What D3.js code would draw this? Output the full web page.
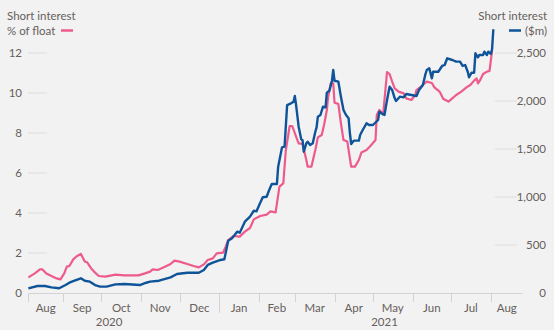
<!DOCTYPE html>
<html><head><meta charset="utf-8">
<script src="https://cdn.jsdelivr.net/npm/d3@7"></script>
<style>
html,body{margin:0;padding:0;background:#f2f2f2;}
svg{display:block;font-family:Lato,"Noto Sans",sans-serif;}
</style></head>
<body><svg id="c" width="554" height="330"></svg>
<script>
// % of float (left axis)
const pinkDates = ["2020-08-05","2020-08-10","2020-08-14","2020-08-16","2020-08-19","2020-08-23","2020-08-27","2020-08-30","2020-09-02","2020-09-04","2020-09-06","2020-09-09","2020-09-12","2020-09-15","2020-09-18","2020-09-20","2020-09-23","2020-09-26","2020-09-29","2020-10-04","2020-10-12","2020-10-19","2020-10-30","2020-11-04","2020-11-08","2020-11-10","2020-11-14","2020-11-20","2020-11-24","2020-11-27","2020-12-01","2020-12-07","2020-12-12","2020-12-16","2020-12-20","2020-12-23","2020-12-27","2020-12-30","2021-01-04","2021-01-06","2021-01-08","2021-01-12","2021-01-17","2021-01-21","2021-01-25","2021-01-28","2021-02-02","2021-02-07","2021-02-10","2021-02-14","2021-02-17","2021-02-20","2021-02-22","2021-02-25","2021-02-27","2021-03-02","2021-03-04","2021-03-07","2021-03-10","2021-03-11","2021-03-14","2021-03-17","2021-03-19","2021-03-22","2021-03-24","2021-03-26","2021-03-27","2021-03-29","2021-03-31","2021-04-01","2021-04-04","2021-04-06","2021-04-08","2021-04-11","2021-04-14","2021-04-17","2021-04-20","2021-04-22","2021-04-26","2021-04-29","2021-05-03","2021-05-04","2021-05-06","2021-05-09","2021-05-10","2021-05-12","2021-05-14","2021-05-16","2021-05-18","2021-05-21","2021-05-25","2021-05-27","2021-05-31","2021-06-03","2021-06-04","2021-06-08","2021-06-12","2021-06-16","2021-06-18","2021-06-22","2021-06-25","2021-06-29","2021-07-01","2021-07-05","2021-07-09","2021-07-13","2021-07-16","2021-07-19","2021-07-21","2021-07-22","2021-07-24","2021-07-26","2021-07-29","2021-07-31","2021-08-02"];
const pinkValues = [0.78,0.98,1.18,1.18,0.98,0.85,0.73,0.68,0.98,1.32,1.35,1.68,1.85,1.95,1.57,1.52,1.23,1.02,0.85,0.82,0.92,0.88,0.88,0.98,1.07,1.18,1.15,1.32,1.45,1.62,1.57,1.45,1.35,1.28,1.43,1.65,1.73,1.98,2.02,2.32,2.65,2.85,2.82,3.07,3.25,3.68,3.85,3.92,4.08,4.03,5.32,5.48,7.15,8.35,8.35,7.82,7.48,7.45,6.65,6.32,6.32,7.15,7.78,7.9,8.45,9.15,9.78,10.48,10.48,9.52,9.45,8.48,7.65,7.57,6.32,6.32,6.65,7.02,7.15,7.35,7.65,8.9,9.15,8.95,9.65,11.05,10.95,10.57,10.23,10.07,9.98,9.73,9.65,9.9,10.15,10.35,10.57,10.5,10.28,10.07,9.7,9.57,9.68,9.9,10.07,10.28,10.4,10.62,10.73,10.48,10.68,10.95,11.07,11.1,12.1];

// Short interest $m (right axis)
const blueDates = ["2020-08-05","2020-08-12","2020-08-18","2020-08-23","2020-08-29","2020-09-03","2020-09-06","2020-09-10","2020-09-15","2020-09-18","2020-09-22","2020-09-26","2020-09-30","2020-10-05","2020-10-12","2020-10-19","2020-10-31","2020-11-05","2020-11-08","2020-11-15","2020-11-24","2020-11-29","2020-12-07","2020-12-16","2020-12-20","2020-12-23","2020-12-27","2021-01-02","2021-01-05","2021-01-08","2021-01-11","2021-01-15","2021-01-17","2021-01-21","2021-01-25","2021-01-28","2021-01-30","2021-02-02","2021-02-04","2021-02-07","2021-02-09","2021-02-11","2021-02-15","2021-02-16","2021-02-19","2021-02-21","2021-02-23","2021-02-26","2021-02-28","2021-03-01","2021-03-02","2021-03-04","2021-03-06","2021-03-07","2021-03-08","2021-03-10","2021-03-11","2021-03-13","2021-03-15","2021-03-17","2021-03-18","2021-03-19","2021-03-21","2021-03-23","2021-03-25","2021-03-26","2021-03-28","2021-03-30","2021-03-31","2021-04-01","2021-04-04","2021-04-06","2021-04-08","2021-04-10","2021-04-12","2021-04-13","2021-04-14","2021-04-16","2021-04-20","2021-04-21","2021-04-23","2021-04-26","2021-04-28","2021-05-01","2021-05-05","2021-05-06","2021-05-09","2021-05-10","2021-05-12","2021-05-14","2021-05-16","2021-05-18","2021-05-19","2021-05-22","2021-05-25","2021-05-27","2021-05-31","2021-06-04","2021-06-06","2021-06-09","2021-06-11","2021-06-12","2021-06-14","2021-06-16","2021-06-17","2021-06-21","2021-06-24","2021-06-26","2021-06-28","2021-07-02","2021-07-05","2021-07-08","2021-07-10","2021-07-12","2021-07-14","2021-07-15","2021-07-17","2021-07-19","2021-07-20","2021-07-22","2021-07-23","2021-07-26","2021-07-27","2021-07-29","2021-07-30","2021-08-01","2021-08-02","2021-08-03"];
const blueValues = [49,73,73,59,49,83,107,128,153,128,118,83,66,66,90,94,83,107,118,128,163,198,211,211,240,292,316,344,351,545,570,639,628,743,795,857,850,941,997,1003,1073,1135,1135,1316,1517,1524,1958,1976,1993,2052,1958,1732,1601,1594,1472,1559,1576,1542,1559,1680,1726,1837,1854,1941,1934,2087,2107,2211,2323,2211,2201,2045,1906,1854,1820,1664,1552,1587,1587,1646,1698,1767,1750,1750,1802,1889,1860,1854,2010,2149,2115,2028,2000,2045,2038,2073,2063,2052,2115,2167,2281,2323,2340,2236,2305,2305,2365,2375,2445,2427,2410,2410,2365,2375,2305,2247,2295,2295,2497,2455,2479,2479,2514,2479,2514,2490,2538,2747];

const leftTicks = [0,2,4,6,8,10,12];
const rightTicks = [500,1000,1500,2000,2500];
const monthLabels = ["Aug","Sep","Oct","Nov","Dec","Jan","Feb","Mar","Apr","May","Jun","Jul","Aug"];
const yearLabels = [{label:"2020", date:"2020-10-07"},{label:"2021", date:"2021-05-10"}];

const parse = d3.timeParse("%Y-%m-%d");
const pink = pinkDates.map((d,i)=>({date:parse(d), v:pinkValues[i]}));
const blue = blueDates.map((d,i)=>({date:parse(d), v:blueValues[i]}));

const textCol = "#66605c", gridCol = "#dcdcdc", tickCol = "#d3d3d3";
const pinkCol = "#ee5a8b", blueCol = "#0f5499";

const svg = d3.select("#c");
svg.append("rect").attr("width",554).attr("height",330).attr("fill","#f2f2f2");

const start = parse("2020-08-05"), end = parse("2021-08-26");
const x = d3.scaleTime().domain([start,end]).range([28.4,522.8]);
const yL = d3.scaleLinear().domain([0,12]).range([293,53]);
const yR = d3.scaleLinear().domain([0,2500]).range([293,53]);

// left stubs + labels
const gl = svg.append("g");
leftTicks.forEach(t=>{
  if(t>0) gl.append("line").attr("x1",28).attr("x2",47).attr("y1",yL(t)).attr("y2",yL(t)).attr("stroke",gridCol).attr("stroke-width",1);
  gl.append("text").attr("x",22).attr("y",yL(t)).attr("dy","0.36em").attr("text-anchor","end")
    .attr("font-size",11.5).attr("fill",textCol).text(t);
});
// right stubs + labels
const gr = svg.append("g");
rightTicks.forEach(t=>{
  gr.append("line").attr("x1",495).attr("x2",517).attr("y1",yR(t)).attr("y2",yR(t)).attr("stroke",gridCol).attr("stroke-width",1);
});
[0].concat(rightTicks).forEach(t=>{
  gr.append("text").attr("x",546).attr("y",yR(t)).attr("dy","0.36em").attr("text-anchor","end")
    .attr("font-size",11.5).attr("fill",textCol).text(d3.format(",")(t));
});

// baseline
svg.append("line").attr("x1",x.range()[0]).attr("x2",x.range()[1]).attr("y1",293.5).attr("y2",293.5).attr("stroke",tickCol);

// month ticks
const months = d3.timeMonth.range(d3.timeMonth.ceil(start), end);
const tickDates = [start].concat(months);
tickDates.forEach(d=>{
  const isYear = d.getMonth()===0 && d.getDate()===1;
  svg.append("line").attr("x1",Math.round(x(d))+0.5).attr("x2",Math.round(x(d))+0.5)
    .attr("y1",293.5).attr("y2",isYear?313:302).attr("stroke",tickCol);
});
// month labels centred between boundaries
const bounds = [start].concat(months).concat([end]);
for(let i=0;i<bounds.length-1;i++){
  const cx = (x(bounds[i])+x(bounds[i+1]))/2;
  svg.append("text").attr("x",cx).attr("y",312).attr("text-anchor","middle")
    .attr("font-size",11.5).attr("fill",textCol).text(monthLabels[i]);
}
yearLabels.forEach(y=>{
  svg.append("text").attr("x",x(parse(y.date))).attr("y",326).attr("text-anchor","middle")
    .attr("font-size",11.5).attr("fill",textCol).text(y.label);
});

// lines
svg.append("path").datum(pink).attr("fill","none").attr("stroke",pinkCol).attr("stroke-width",2.2)
  .attr("stroke-linejoin","round")
  .attr("d",d3.line().x(d=>x(d.date)).y(d=>yL(d.v)));
svg.append("path").datum(blue).attr("fill","none").attr("stroke",blueCol).attr("stroke-width",2.4)
  .attr("stroke-linejoin","round")
  .attr("d",d3.line().x(d=>x(d.date)).y(d=>yR(d.v)));

// legends
svg.append("text").attr("x",7).attr("y",19.5).attr("font-size",11.5).attr("fill",textCol).text("Short interest");
svg.append("text").attr("x",7).attr("y",35).attr("font-size",11.5).attr("fill",textCol).text("% of float");
svg.append("line").attr("x1",61).attr("x2",73).attr("y1",30.5).attr("y2",30.5).attr("stroke",pinkCol).attr("stroke-width",2.5);
svg.append("text").attr("x",547).attr("y",19.5).attr("text-anchor","end").attr("font-size",11.5).attr("fill",textCol).text("Short interest");
svg.append("text").attr("x",547).attr("y",35).attr("text-anchor","end").attr("font-size",11.5).attr("fill",textCol).text("($m)");
svg.append("line").attr("x1",509).attr("x2",521).attr("y1",30.5).attr("y2",30.5).attr("stroke",blueCol).attr("stroke-width",2.5);
</script></body></html>
